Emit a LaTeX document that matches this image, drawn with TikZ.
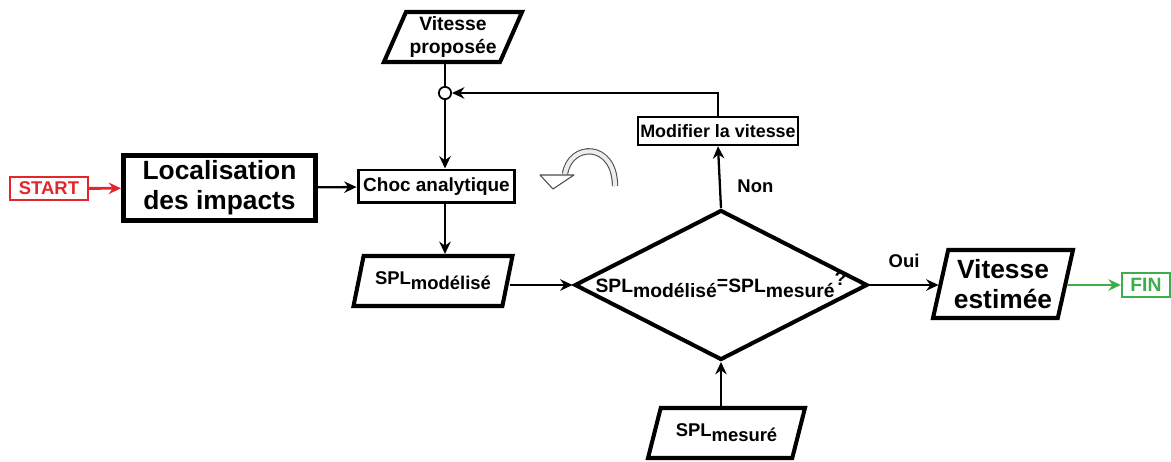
\documentclass[tikz,border=0pt]{standalone}
\usepackage{fontspec}
\setmainfont{Liberation Sans}
\usetikzlibrary{arrows.meta,shapes.geometric}
\definecolor{StartRed}{HTML}{E3262B}
\definecolor{FinGreen}{HTML}{3DAE49}
\newcommand{\indbas}[1]{\raisebox{-0.5ex}{#1}}
\newcommand{\taille}[1]{\bfseries\fontsize{#1}{1.15\dimexpr#1pt\relax}\selectfont}
\tikzset{
  boite/.style={draw, rectangle, inner sep=0pt, align=center},
  donnee/.style={draw, trapezium, trapezium stretches body, inner sep=2pt,
    line width=2.3pt, align=center},
  fleche/.style={-{Stealth[length=7pt,width=6.5pt]}, line width=1.3pt},
}

\begin{document}
\begin{tikzpicture}[x=0.02cm, y=-0.02cm]
  \useasboundingbox (0,0) rectangle (1171,462);

  % debut et fin
  \node[boite, StartRed, line width=1.4pt, minimum width=1.56cm, minimum height=0.46cm,
    font=\taille{10.5}] (start) at (49,188.5) {START};
  \node[boite, FinGreen, line width=1.4pt, minimum width=0.96cm, minimum height=0.48cm,
    font=\taille{11}] (fin) at (1146,285) {FIN};

  % blocs
  \node[boite, line width=2.8pt, minimum width=3.84cm, minimum height=1.3cm,
    font=\taille{15}] (loc) at (219.5,188) {Localisation\\des impacts};
  \node[boite, line width=1.7pt, minimum width=3.14cm, minimum height=0.66cm,
    font=\taille{10.8}] (choc) at (436.5,186.5) {Choc analytique};
  \node[boite, line width=1.4pt, minimum width=3.2cm, minimum height=0.56cm,
    font=\taille{10.2}] (modif) at (718,131) {Modifier la vitesse};

  % donnees
  \node[donnee, trapezium left angle=65, trapezium right angle=115,
    minimum width=2.5cm, minimum height=1.0cm, font=\taille{11}]
    (prop) at (453,37) {Vitesse\\proposée};
  \node[donnee, trapezium left angle=68, trapezium right angle=112,
    minimum width=3.18cm, minimum height=1.0cm, font=\taille{10.5}]
    (splmod) at (433,281) {SPL\indbas{modélisé}};
  \node[donnee, trapezium left angle=63, trapezium right angle=117,
    minimum width=3.14cm, minimum height=1.0cm, font=\taille{10.5}]
    (splmes) at (726.5,433) {SPL\indbas{mesuré}};
  \node[donnee, trapezium left angle=75, trapezium right angle=105,
    minimum width=2.8cm, minimum height=1.36cm, font=\taille{15}]
    (est) at (1003,284) {Vitesse\\estimée};

  % test
  \node[draw, diamond, line width=2.3pt, inner sep=0pt, minimum width=5.86cm,
    minimum height=3.0cm] (ques) at (721,285) {};
  \node[font=\taille{11}, inner sep=0pt] (questxt) at (ques.center)
    {SPL\indbas{modélisé}\raisebox{0.3ex}{=}SPL\indbas{mesuré}\raisebox{0.7ex}{?}};

  \node[circle, draw, line width=1pt, inner sep=0pt, minimum size=7pt, fill=white]
    (jct) at (445,93) {};

  % liaisons
  \draw[fleche, StartRed, line width=1.6pt] (start) -- (loc);
  \draw[fleche] (loc) -- (choc);
  \draw[line width=1.3pt] (prop.south -| jct) -- (jct);
  \draw[fleche] (jct) -- (jct |- choc.north);
  \draw[fleche] (modif.north) |- (jct.east);
  \draw[fleche] (choc.south -| jct) -- (splmod.north -| jct);
  \draw[fleche] (splmod.east |- ques.west) -- (ques.west);
  \draw[fleche] (ques.north) -- (modif.south) node[pos=0.35, right=6pt, font=\taille{10.5}] {Non};
  \draw[fleche] (ques.east) -- (est.west |- ques.east) node[midway, above=6pt, font=\taille{10.5}] {Oui};
  \draw[fleche] (ques.south |- splmes.north) -- (ques.south);
  \draw[fleche, FinGreen, line width=1.6pt] (est.east |- fin.west) -- (fin.west);

  % fleche courbe
  \draw[gray!60!black, line width=0.6pt, double=gray!15, double distance=2.4pt]
    (615,186) .. controls (615,142) and (570,142) .. (565,174);
  \draw[gray!60!black, line width=0.6pt, fill=white, line join=round]
    (540,175) -- (574,175) -- (553,189) -- cycle;
\end{tikzpicture}
\end{document}
